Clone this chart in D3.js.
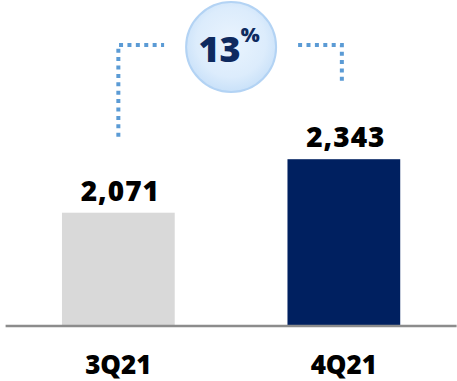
<!DOCTYPE html>
<html>
<head>
<meta charset="utf-8">
<script src="https://cdn.jsdelivr.net/npm/d3@7"></script>
<style>
  html, body { margin: 0; padding: 0; background: #fff; }
  svg { display: block; }
  text { font-family: "Open Sans", Lato, sans-serif; font-weight: 800; }
</style>
</head>
<body>
<svg id="chart" width="457" height="381"></svg>
<script>
// Quarterly totals
const categories = ["3Q21", "4Q21"];
const values = [2071, 2343];
const barColors = ["#d9d9d9", "#002060"];

const W = 457, H = 381;
const svg = d3.select("#chart");

const x = d3.scaleBand()
  .domain(categories)
  .range([5.6, 456.6])
  .paddingInner(0.5)
  .paddingOuter(0.25);

const y = d3.scaleLinear()
  .domain([1500, 2400])
  .range([325, 148]);

const defs = svg.append("defs");
const grad = defs.append("radialGradient").attr("id", "bubble")
  .attr("cx", "50%").attr("cy", "45%").attr("r", "55%");
grad.append("stop").attr("offset", "0%").attr("stop-color", "#eaf4fe");
grad.append("stop").attr("offset", "70%").attr("stop-color", "#dcecfc");
grad.append("stop").attr("offset", "100%").attr("stop-color", "#c9e1f9");

// Bars
svg.append("g").selectAll("rect")
  .data(categories)
  .join("rect")
  .attr("x", d => x(d))
  .attr("width", x.bandwidth())
  .attr("y", (d, i) => y(values[i]))
  .attr("height", (d, i) => y.range()[0] - y(values[i]))
  .attr("fill", (d, i) => barColors[i]);

// Baseline
svg.append("line")
  .attr("x1", x.range()[0]).attr("x2", x.range()[1])
  .attr("y1", 326).attr("y2", 326)
  .attr("stroke", "#8c8c8c").attr("stroke-width", 2.6);

// Value labels
svg.append("g").selectAll("text")
  .data(categories)
  .join("text")
  .attr("x", d => x(d) + x.bandwidth() / 2 + 2)
  .attr("y", (d, i) => y(values[i]) - 12)
  .attr("text-anchor", "middle")
  .attr("font-size", 28)
  .attr("letter-spacing", 1)
  .attr("fill", "#000")
  .text((d, i) => d3.format(",")(values[i]));

// Category labels
svg.append("g").selectAll("text")
  .data(categories)
  .join("text")
  .attr("x", d => x(d) + x.bandwidth() / 2)
  .attr("y", 374)
  .attr("text-anchor", "middle")
  .attr("font-size", 26)
  .attr("fill", "#000")
  .text(d => d);

// Growth bracket
const cx0 = x(categories[0]) + x.bandwidth() / 2;
const cx1 = x(categories[1]) + x.bandwidth() / 2 - 2;
const topY = 45;
const mid = (cx0 + cx1) / 2 + 1;
const r = 45;
const gap = 22;
const dotted = { stroke: "#5b9bd5", width: 4, dash: "4 4.4" };

function bracket(points) {
  svg.append("path")
    .attr("d", d3.line()(points))
    .attr("fill", "none")
    .attr("stroke", dotted.stroke)
    .attr("stroke-width", dotted.width)
    .attr("stroke-dasharray", dotted.dash);
}
bracket([[cx0, y(values[0]) - 76], [cx0, topY], [mid - r - gap, topY]]);
bracket([[mid + r + gap, topY], [cx1, topY], [cx1, y(values[1]) - 74]]);

// Growth bubble
svg.append("circle")
  .attr("cx", mid).attr("cy", 47).attr("r", r)
  .attr("fill", "url(#bubble)")
  .attr("stroke", "#b3d3f4").attr("stroke-width", 2);

const growth = Math.round((values[1] / values[0] - 1) * 100);
const g = svg.append("text")
  .attr("x", mid - 2).attr("y", 62)
  .attr("text-anchor", "middle")
  .attr("fill", "#0e2a5f");
g.append("tspan").attr("font-size", 36).text(growth);
g.append("tspan").attr("font-size", 20).attr("dy", -20).text("%");
</script>
</body>
</html>
